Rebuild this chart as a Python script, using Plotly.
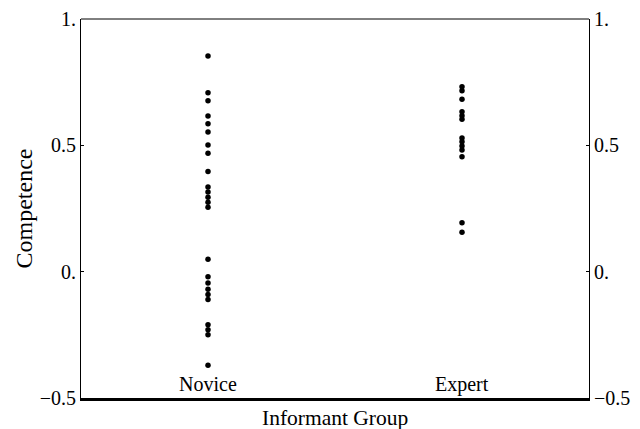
import plotly.graph_objects as go

categories = ["Novice", "Expert"]
novice = [0.854, 0.708, 0.677, 0.616, 0.585, 0.553, 0.501, 0.469, 0.396,
          0.335, 0.315, 0.295, 0.275, 0.255, 0.049,
          -0.02, -0.045, -0.07, -0.09, -0.11, -0.21, -0.23, -0.25, -0.37]
expert = [0.732, 0.716, 0.682, 0.633, 0.617, 0.603, 0.529, 0.514, 0.497,
          0.482, 0.455, 0.194, 0.156]
tick_vals = [-0.5, 0, 0.5, 1]
tick_text = ["\u22120.5", "0.", "0.5", "1."]

FONT = "Liberation Serif"
fig = go.Figure()
fig.add_trace(go.Scatter(x=[1] * len(novice), y=novice, mode="markers",
                         marker=dict(color="black", size=5.5),
                         showlegend=False, hoverinfo="y", yaxis="y"))
fig.add_trace(go.Scatter(x=[2] * len(expert), y=expert, mode="markers",
                         marker=dict(color="black", size=5.5),
                         showlegend=False, hoverinfo="y", yaxis="y2"))

yrange = [-0.5001, 1.0001]
yax = dict(range=yrange, tickvals=tick_vals, ticktext=tick_text,
           showgrid=False, zeroline=False, ticks="inside", ticklen=3,
           tickcolor="black", showline=True, linecolor="black", linewidth=1,
           automargin=False,
           tickfont=dict(family=FONT, size=20, color="black"))

cat_annotations = [
    dict(text=c, x=i + 1, xref="x", yref="paper", y=0, yshift=14,
         yanchor="middle", showarrow=False,
         font=dict(family=FONT, size=20, color="black"))
    for i, c in enumerate(categories)
]

fig.update_layout(
    width=640, height=429,
    margin=dict(l=73, r=59, t=11, b=39),
    paper_bgcolor="white", plot_bgcolor="white",
    font=dict(family=FONT, size=20, color="black"),
    xaxis=dict(range=[0.5, 2.5], showticklabels=False, ticks="",
               showgrid=False, zeroline=False, showline=True,
               linecolor="black", linewidth=2.5, automargin=False),
    yaxis=dict(**yax, side="left"),
    yaxis2=dict(**yax, overlaying="y", side="right", matches="y"),
    shapes=[dict(type="line", xref="paper", yref="paper", x0=0, x1=1, y0=1, y1=1,
                 line=dict(color="black", width=1))],
    annotations=cat_annotations + [
        dict(text="Informant Group", xref="paper", yref="paper", x=0.5, y=0,
             yshift=-20, yanchor="middle", showarrow=False,
             font=dict(family=FONT, size=21.5, color="black")),
        dict(text="Competence", xref="paper", yref="paper", x=0, y=0.5,
             xshift=-58, xanchor="center", yanchor="middle", textangle=-90,
             showarrow=False, font=dict(family=FONT, size=24, color="black")),
    ],
)
fig.write_html("out.html")
